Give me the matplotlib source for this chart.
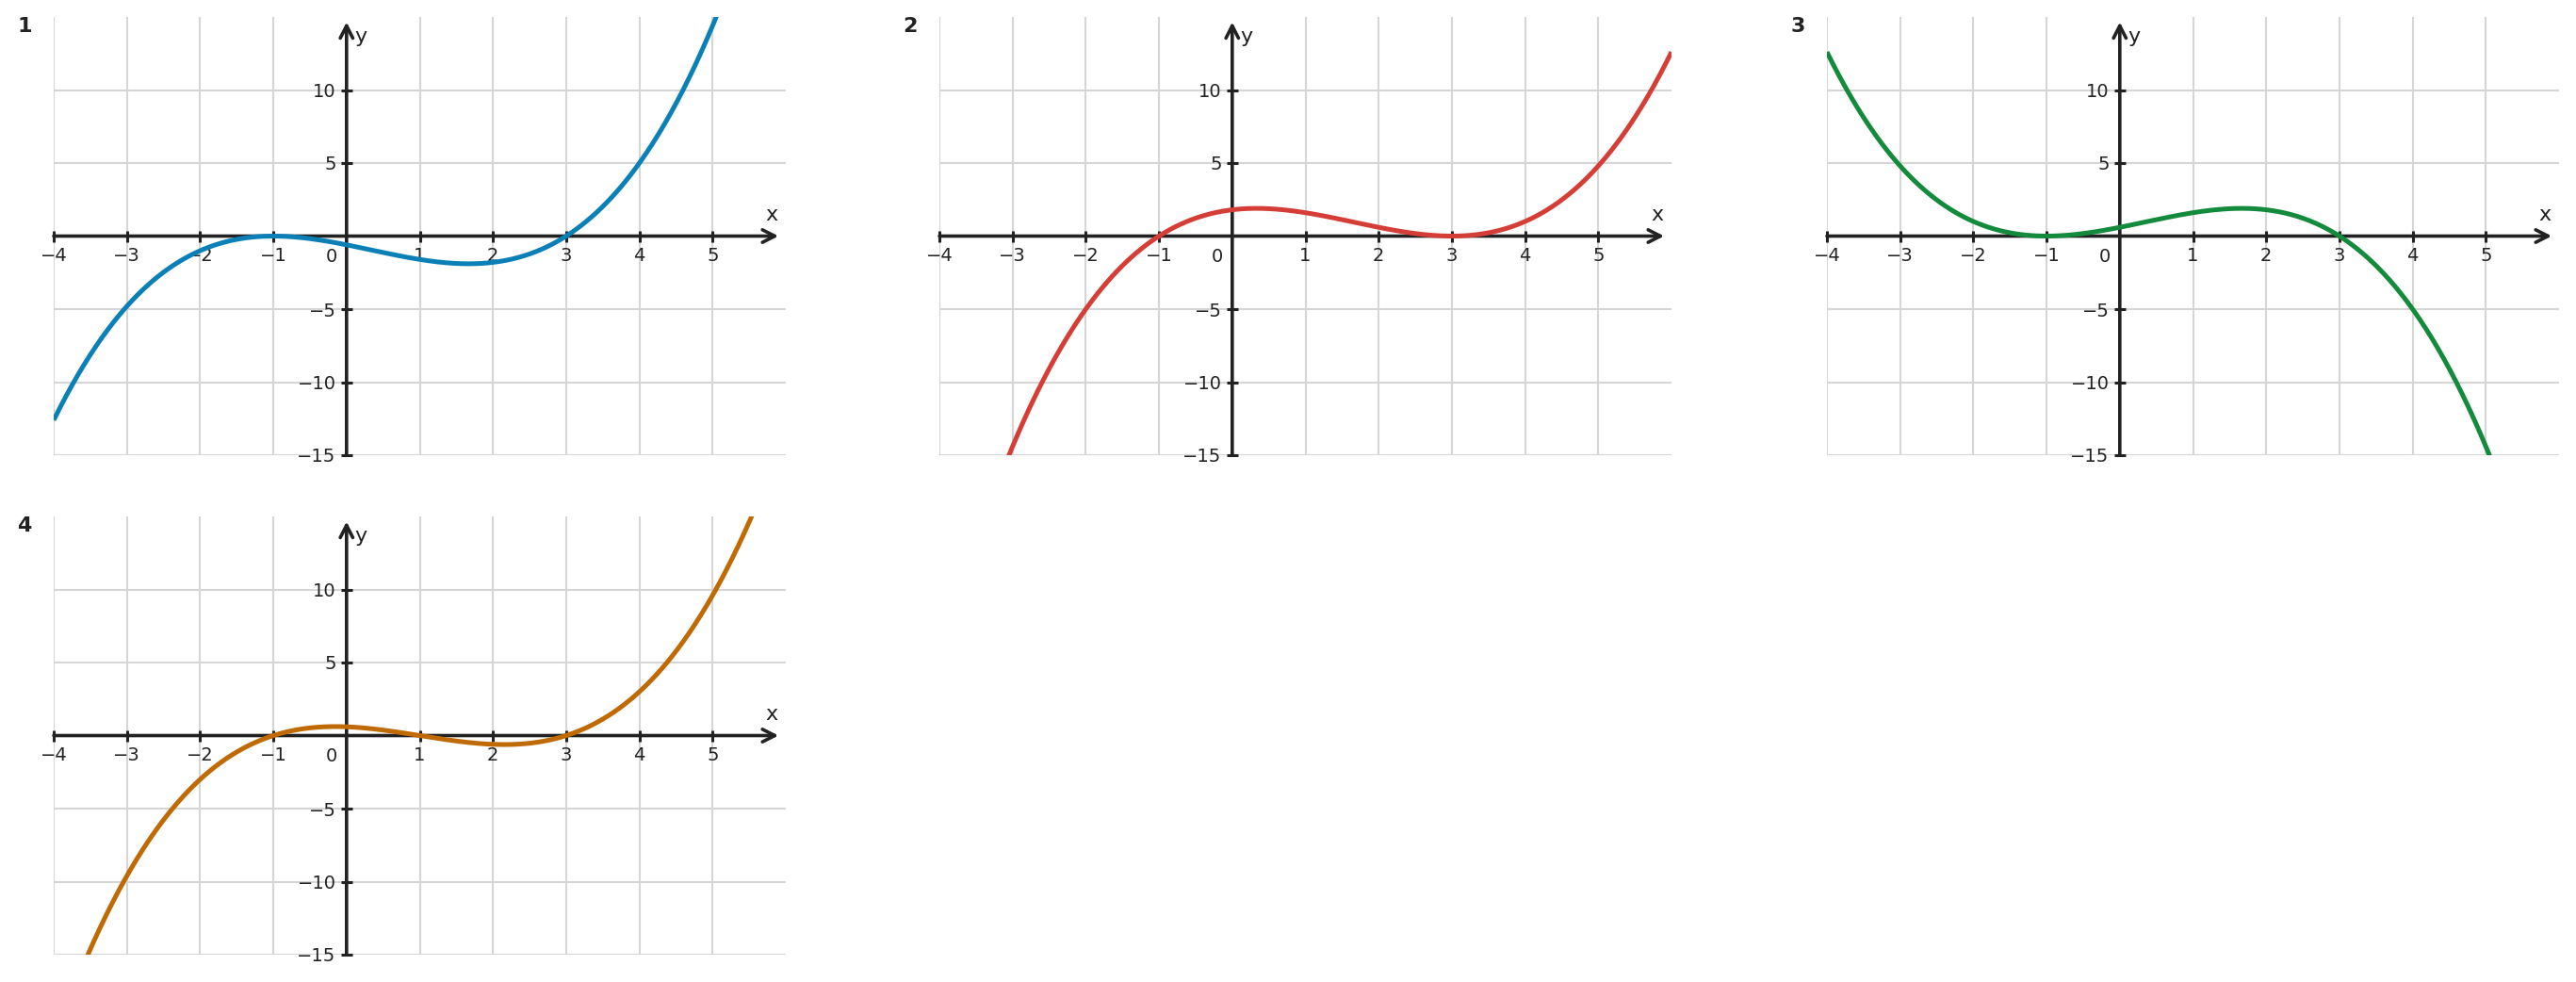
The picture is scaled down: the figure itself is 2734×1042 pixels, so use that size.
import numpy as np
import matplotlib
matplotlib.use('Agg')
import matplotlib.pyplot as plt

# each graph is a cubic given by its roots and leading factor
panel_names = ['1', '2', '3', '4']
curve_roots = [[-1, -1, 3],
               [-1, 3, 3],
               [-1, -1, 3],
               [-1, 1, 3]]
curve_scale = [0.2, 0.2, -0.2, 0.2]
curve_colors = ['#0b80b6', '#d53e36', '#148a3c', '#bf6a04']

x_ticks = [-4, -3, -2, -1, 1, 2, 3, 4, 5]
y_ticks = [-15, -10, -5, 5, 10]
x_range = (-4, 6)
y_range = (-15, 15)

INK = '#222222'
GRID = '#d6d6d6'

W, H = 2734, 1042
fig = plt.figure(figsize=(W / 100, H / 100), dpi=100)

lefts = [57, 997, 1939, 57]
bottoms = [H - 483, H - 483, H - 483, H - 1013]
aw, ah = 777, 465


def draw_panel(ax, name, roots, scale, color):
    ax.set_xlim(*x_range)
    ax.set_ylim(*y_range)

    ax.set_xticks(x_ticks)
    ax.set_xticklabels([f'{t}'.replace('-', '\u2212') for t in x_ticks])
    ax.set_yticks(y_ticks)
    ax.set_yticklabels([f'{t}'.replace('-', '\u2212') for t in y_ticks])
    ax.grid(True, color=GRID, lw=1.5, zorder=0)
    ax.set_axisbelow(True)

    # spines only carry the ticks, the axis lines are drawn as arrows below
    for side in ['top', 'right']:
        ax.spines[side].set_visible(False)
    ax.spines['left'].set_position(('data', 0))
    ax.spines['bottom'].set_position(('data', 0))
    for side in ['left', 'bottom']:
        ax.spines[side].set_linewidth(0)

    ax.tick_params(axis='both', direction='inout', length=8, width=2.2,
                   color=INK, labelcolor=INK, labelsize=14)
    ax.tick_params(axis='x', pad=4.5)
    ax.tick_params(axis='y', pad=4)

    head = '->,head_length=0.47,head_width=0.24'
    arrow = dict(arrowstyle=head, lw=2.6, color=INK,
                 shrinkA=0, shrinkB=0, mutation_scale=20)
    ax.annotate('', xy=(5.9, 0), xytext=(-4, 0), arrowprops=arrow,
                annotation_clip=False)
    ax.annotate('', xy=(0, 14.65), xytext=(0, -15), arrowprops=arrow,
                annotation_clip=False)

    ax.annotate('0', xy=(0, 0), xytext=(-10, -12), textcoords='offset pixels',
                ha='right', va='top', fontsize=14, color=INK)
    ax.annotate('x', xy=(5.8, 0), xytext=(0, 13), textcoords='offset pixels',
                ha='center', va='bottom', fontsize=16, color=INK)
    ax.annotate('y', xy=(0, 14.3), xytext=(9, 0), textcoords='offset pixels',
                ha='left', va='top', fontsize=16, color=INK)

    ax.annotate(name, xy=(0, 1), xycoords='axes fraction', xytext=(-31, 0),
                textcoords='offset pixels', ha='center', va='top',
                fontsize=16, fontweight='bold', color=INK)

    xs = np.linspace(x_range[0], x_range[1], 600)
    ys = scale * np.polyval(np.poly(roots), xs)
    ax.plot(xs, ys, color=color, lw=3.6, zorder=3, solid_capstyle='butt')


for i in range(len(panel_names)):
    ax = fig.add_axes([lefts[i] / W, bottoms[i] / H, aw / W, ah / H])
    ax.patch.set_alpha(0)
    draw_panel(ax, panel_names[i], curve_roots[i], curve_scale[i], curve_colors[i])

fig.savefig('out.png', dpi=100, facecolor='white')
